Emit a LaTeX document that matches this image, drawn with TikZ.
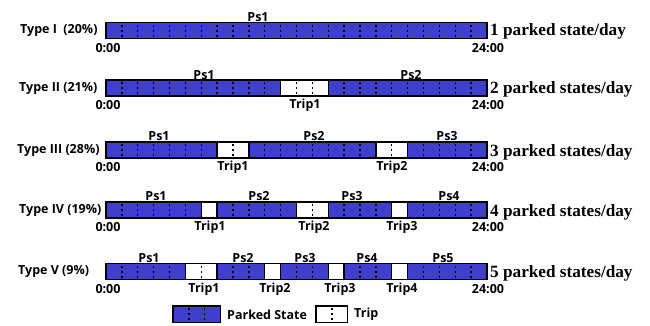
\documentclass[tikz,border=0pt]{standalone}
\usepackage{fontspec}
\setsansfont{Open Sans}[BoldFont={Open Sans Bold}]
\setmainfont{Liberation Serif}
\definecolor{parked}{RGB}{63,63,205}

\begin{document}
\begin{tikzpicture}[x=1pt,y=-1pt,
	bar/.style={draw=black,line width=1.4pt,fill=parked},
	tripbox/.style={draw=black,line width=1.4pt,fill=white},
	hourdots/.style={black,line width=1.4pt,dash pattern=on 1.8pt off 3.2pt,dash phase=2.6pt},
	lbl/.style={font=\sffamily\bfseries\fontsize{12.5}{14}\selectfont,inner sep=0pt},
	daylbl/.style={font=\rmfamily\bfseries\fontsize{17.2}{19}\selectfont,inner sep=0pt,anchor=base west}]
	\useasboundingbox (0,0) rectangle (650,326);

	% one bar per type, 0:00 at x=106, 15.875 per hour
	\foreach \r/\y in {1/30.5,2/88,3/150,4/210,5/271.5}
	\draw[bar] (106,{\y-8}) rectangle (487,{\y+8});
	\foreach \y/\a/\b in {88/11/14, 150/7/9, 150/17/19, 210/6/7, 210/12/14, 210/18/19,
		271.5/5/7, 271.5/10/11, 271.5/14/15, 271.5/18/19}
	\draw[tripbox] ({106+15.875*\a},{\y-8}) rectangle ({106+15.875*\b},{\y+8});
	\foreach \y in {30.5,88,150,210,271.5}
	\foreach \h in {1,...,23}
	\draw[hourdots] ({106+15.875*\h},{\y-8}) -- ({106+15.875*\h},{\y+8});

	% types
	\node[lbl,anchor=west] (t1) at (20,30.5) {Type I\ \ (20\%)};
	\node[lbl,anchor=west] (t2) at (19,88) {Type II (21\%)};
	\node[lbl,anchor=west] (t3) at (17,150) {Type III (28\%)};
	\node[lbl,anchor=west] (t4) at (19,210) {Type IV (19\%)};
	\node[lbl,anchor=west] (t5) at (18,271.5) {Type V (9\%)};

	\node[daylbl] (d1) at (490,36) {1 parked state/day};
	\node[daylbl] (d2) at (490,94) {2 parked states/day};
	\node[daylbl] (d3) at (490,156) {3 parked states/day};
	\node[daylbl] (d4) at (490,216) {4 parked states/day};
	\node[daylbl] (d5) at (490,277) {5 parked states/day};

	\foreach \r/\y in {1/30.5,2/88,3/150,4/210,5/271.5}{
		\node[lbl] (st\r) at (108,{\y+17.5}) {0:00};
		\node[lbl] (en\r) at (488,{\y+17.5}) {24:00};
	}

	% parked states
	\node[lbl] (ps11) at (258,17) {Ps1};
	\node[lbl] (ps21) at (204,75) {Ps1};
	\node[lbl] (ps22) at (411,75) {Ps2};
	\node[lbl] (ps31) at (159,136.5) {Ps1};
	\node[lbl] (ps32) at (314,136.5) {Ps2};
	\node[lbl] (ps33) at (447,136.5) {Ps3};
	\node[lbl] (ps41) at (156,196.5) {Ps1};
	\node[lbl] (ps42) at (259,196.5) {Ps2};
	\node[lbl] (ps43) at (352,196.5) {Ps3};
	\node[lbl] (ps44) at (449,196.5) {Ps4};
	\node[lbl] (ps51) at (149,258) {Ps1};
	\node[lbl] (ps52) at (243,258) {Ps2};
	\node[lbl] (ps53) at (305,258) {Ps3};
	\node[lbl] (ps54) at (367,258) {Ps4};
	\node[lbl] (ps55) at (443,258) {Ps5};

	% trips
	\node[lbl] (tr21) at (305,105.5) {Trip1};
	\node[lbl] (tr31) at (233,167.5) {Trip1};
	\node[lbl] (tr32) at (392,167.5) {Trip2};
	\node[lbl] (tr41) at (210,227.5) {Trip1};
	\node[lbl] (tr42) at (314,227.5) {Trip2};
	\node[lbl] (tr43) at (402,227.5) {Trip3};
	\node[lbl] (tr51) at (204,289) {Trip1};
	\node[lbl] (tr52) at (275,289) {Trip2};
	\node[lbl] (tr53) at (340,289) {Trip3};
	\node[lbl] (tr54) at (402,289) {Trip4};

	% legend
	\draw[bar] (173,306) rectangle (220.6,322.5);
	\foreach \h in {1,2}
	\draw[hourdots] ({173+15.875*\h},306) -- ({173+15.875*\h},322.5);
	\node[lbl,anchor=west] (kpark) at (227,314.5) {Parked State};
	\draw[tripbox] (316,306) rectangle (347.75,322.5);
	\draw[hourdots] (331.9,306) -- (331.9,322.5);
	\node[lbl,anchor=west] (ktrip) at (354,314.5) {Trip};
\end{tikzpicture}
\end{document}
